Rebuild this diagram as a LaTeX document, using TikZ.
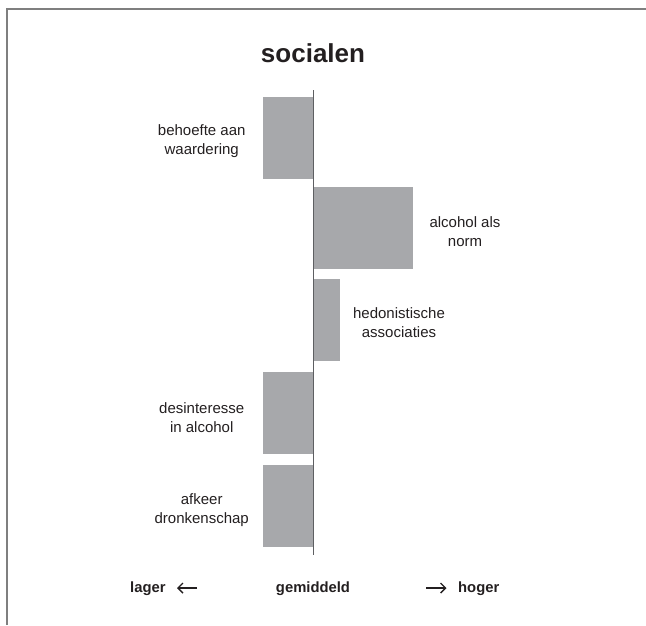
\documentclass[tikz,border=0pt]{standalone}
\usepackage{fontspec}
\setmainfont{Liberation Sans}
\usetikzlibrary{arrows.meta}
\definecolor{barfill}{HTML}{A7A8AB}
\definecolor{axisgray}{HTML}{5E5F62}
\definecolor{framegray}{HTML}{7F7F7F}
\definecolor{txt}{HTML}{231F20}
\begin{document}
\begin{tikzpicture}[x=1pt,y=-1pt,
  bar/.style={fill=barfill,draw=none},
  lbl/.style={align=center,inner sep=0pt,text=txt,font=\fontsize{15}{19}\selectfont},
  foot/.style={inner sep=0pt,text=txt,font=\fontsize{14.8}{17}\selectfont\bfseries},
  dirarrow/.style={draw=txt,line width=1.4pt,-{Straight Barb[length=5pt,width=10pt,line width=1.4pt]}}]
\useasboundingbox (0,0) rectangle (646,625);
% frame (left and top)
\draw[framegray,line width=2pt] (6.5,625) -- (6.5,8.5) -- (646,8.5);
% title
\node[inner sep=0pt,anchor=base,text=txt,font=\fontsize{26}{30}\selectfont\bfseries] (title) at (313,62) {socialen};
% bars
\fill[bar] (263,97) rectangle (313.5,179);
\fill[bar] (313.5,187) rectangle (412.7,269);
\fill[bar] (313.5,279) rectangle (340,361);
\fill[bar] (263,372) rectangle (313.5,454);
\fill[bar] (263,465) rectangle (313.5,547);
% axis
\coordinate (axtop) at (313.5,90);
\coordinate (axbot) at (313.5,555);
\draw[axisgray,line width=1.6pt] (axtop) -- (axbot);
% labels
\node[lbl] (l1) at (201.7,141) {behoefte aan\\waardering};
\node[lbl] (l2) at (465,232) {alcohol als\\norm};
\node[lbl] (l3) at (399,323) {hedonistische\\associaties};
\node[lbl] (l4) at (201.7,418) {desinteresse\\in alcohol};
\node[lbl] (l5) at (201.7,510) {afkeer\\dronkenschap};
% footer
\node[foot,anchor=base west] (lager) at (130,592) {lager};
\node[foot,anchor=base] (gem) at (313,592) {gemiddeld};
\node[foot,anchor=base east] (hoger) at (499.5,592) {hoger};
\coordinate (la1) at (197,588);
\coordinate (la2) at (177,588);
\coordinate (ha1) at (426,588);
\coordinate (ha2) at (446.5,588);
\draw[dirarrow] (la1) -- (la2);
\draw[dirarrow] (ha1) -- (ha2);
\end{tikzpicture}
\end{document}
